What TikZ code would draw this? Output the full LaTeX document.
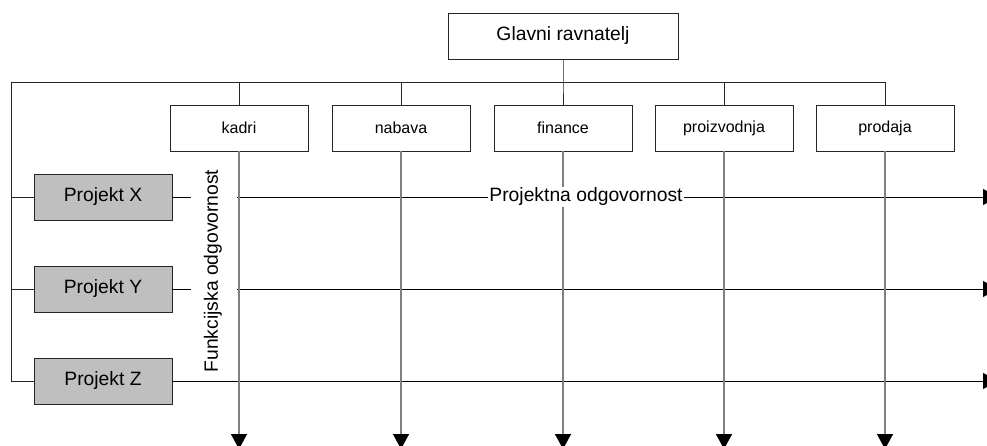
\documentclass[tikz,border=0pt]{standalone}
\usepackage{fontspec}
\setmainfont{Liberation Sans}
\usetikzlibrary{arrows.meta}
\begin{document}
\begin{tikzpicture}[x=1pt,y=-1pt,
  box/.style={draw=black!85,line width=0.9pt,minimum width=138pt,minimum height=46pt,inner sep=0pt,fill=white},
  dept/.style={box,font=\fontsize{16}{19}\selectfont},
  proj/.style={box,fill=black!25,font=\fontsize{19.3}{23}\selectfont},
  link/.style={draw=black!85,line width=0.9pt},
  tip/.style={-{Triangle[width=16pt,length=15pt,color=black]}},
  flow/.style={draw=black,line width=0.9pt,tip},
  func/.style={draw=black!50,line width=1.6pt,tip},
  lbl/.style={font=\fontsize{19.3}{23}\selectfont,inner sep=1pt}]
  \useasboundingbox (0,0) rectangle (987,446);
  \clip (0,0) rectangle (987,446);

  % management
  \node[box,minimum width=230pt,font=\fontsize{19.3}{23}\selectfont] (gr) at (563,36) {Glavni ravnatelj};

  % functional departments
  \node[dept] (kadri) at (239,128) {kadri};
  \node[dept] (nabava) at (401,128) {nabava};
  \node[dept] (finance) at (563,128) {finance};
  \node[dept] (proizvodnja) at (724,128) {proizvodnja};
  \node[dept] (prodaja) at (885,128) {prodaja};

  % projects
  \node[proj] (px) at (103,197) {Projekt X};
  \node[proj] (py) at (103,289) {Projekt Y};
  \node[proj] (pz) at (103,381) {Projekt Z};

  % bus coordinates
  \coordinate (busL) at (11,82);
  \coordinate (busR) at (885,82);
  \coordinate (busC) at (563,82);
  \coordinate (lx) at (11,197);
  \coordinate (ly) at (11,289);
  \coordinate (lz) at (11,381);

  % project flow lines
  \coordinate (xa) at (191,197); \coordinate (xb) at (237,197); \coordinate (xe) at (998,197);
  \coordinate (ya) at (191,289); \coordinate (yb) at (237,289); \coordinate (ye) at (998,289);
  \coordinate (ze) at (998,381);
  \draw[link,draw=black] (px.east) -- (xa);
  \draw[flow] (xb) -- (xe);
  \draw[link,draw=black] (py.east) -- (ya);
  \draw[flow] (yb) -- (ye);
  \draw[flow] (pz.east) -- (ze);

  % functional lines
  \foreach \d in {kadri,nabava,finance,proizvodnja,prodaja}
    \draw[func] (\d.south) -- (\d.south |- 0,449);

  % organisation tree
  \draw[link] (gr.south) -- (busC) -- (finance.north);
  \draw[link] (busR) -- (busL) -- (lz) -- (pz.west);
  \draw[link] (lx) -- (px.west);
  \draw[link] (ly) -- (py.west);
  \foreach \d in {kadri,nabava,proizvodnja,prodaja}
    \draw[link] (\d.north |- busL) -- (\d.north);

  % labels
  \node[lbl,rotate=90] (fo) at (213,271) {Funkcijska odgovornost};
  \node[lbl,fill=white] (po) at (586,197) {Projektna odgovornost};
\end{tikzpicture}
\end{document}
